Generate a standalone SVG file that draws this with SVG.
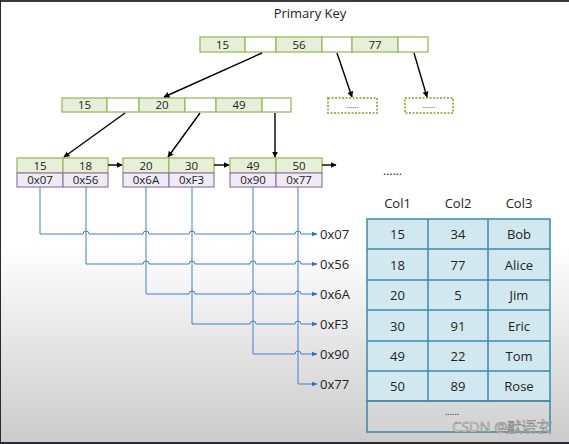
<svg xmlns="http://www.w3.org/2000/svg" width="569" height="444" viewBox="0 0 569 444">
<defs>
<linearGradient id="bg" x1="0" y1="0" x2="0" y2="1">
<stop offset="0" stop-color="#ffffff"/>
<stop offset="0.55" stop-color="#ffffff"/>
<stop offset="1" stop-color="#cbcbcb"/>
</linearGradient>
<marker id="ah" viewBox="0 0 10 10" refX="9" refY="5" markerWidth="6" markerHeight="6" orient="auto" markerUnits="userSpaceOnUse">
<path d="M0,0 L10,5 L0,10 z" fill="#000"/>
</marker>
<marker id="ab" viewBox="0 0 10 10" refX="9" refY="5" markerWidth="6" markerHeight="6" orient="auto" markerUnits="userSpaceOnUse">
<path d="M0,1 L10,5 L0,9 z" fill="#2f6fcf"/>
</marker>
</defs>
<style>
text{font-family:"Open Sans","Noto Sans","DejaVu Sans",sans-serif;fill:#222}
.k{fill:#e7efd8;stroke:#9bbb59;stroke-width:1.3}
.e{fill:#ffffff;stroke:#9bbb59;stroke-width:1.3}
.p{fill:#efeaf3;stroke:#8f78b0;stroke-width:1.2}
.d{fill:#ffffff;stroke:#9bbb59;stroke-width:2;stroke-dasharray:2 1.5}
.c{font-size:11.5px;text-anchor:middle}
.bk{fill:none;stroke:#000;stroke-width:1.4;marker-end:url(#ah)}
.bl{fill:none;stroke:#3b7fd4;stroke-width:1}
.ba{fill:none;stroke:#3b7fd4;stroke-width:1;marker-end:url(#ab)}
.lbl{font-size:13px}
.t{fill:#d2e8f0;stroke:#3a8aa6;stroke-width:1.5}
.tc{font-size:13px;text-anchor:middle}
</style>
<rect x="0" y="0" width="569" height="444" fill="url(#bg)"/>
<rect x="0" y="0" width="569" height="2" fill="#3a3a42"/>
<rect x="0" y="442" width="569" height="2" fill="#2a2a30"/>
<rect x="0" y="0" width="1" height="444" fill="#2a2a30"/>

<text x="310" y="18" font-size="13" text-anchor="middle">Primary Key</text>

<g id="root">
<rect class="k" x="200" y="37" width="45" height="15"/>
<rect class="e" x="245" y="37" width="31" height="15"/>
<rect class="k" x="276" y="37" width="46" height="15"/>
<rect class="e" x="322" y="37" width="30" height="15"/>
<rect class="k" x="352" y="37" width="46" height="15"/>
<rect class="e" x="398" y="37" width="30" height="15"/>
<text class="c" x="222.5" y="48.5">15</text>
<text class="c" x="299" y="48.5">56</text>
<text class="c" x="375" y="48.5">77</text>
</g>

<g id="inner">
<rect class="k" x="62" y="98" width="45" height="14"/>
<rect class="e" x="107" y="98" width="32" height="14"/>
<rect class="k" x="139" y="98" width="46" height="14"/>
<rect class="e" x="185" y="98" width="31" height="14"/>
<rect class="k" x="216" y="98" width="46" height="14"/>
<rect class="e" x="262" y="98" width="29" height="14"/>
<text class="c" x="84.5" y="109">15</text>
<text class="c" x="162" y="109">20</text>
<text class="c" x="239" y="109">49</text>
</g>

<g id="more1">
<rect class="d" x="328" y="98" width="49" height="15"/>
<text class="c" x="352.5" y="108" font-size="8" style="font-size:8px">......</text>
</g>
<g id="more2">
<rect class="d" x="405" y="98" width="48" height="15"/>
<text class="c" x="429" y="108" style="font-size:8px">......</text>
</g>

<g id="leaf1">
<rect class="k" x="17" y="158" width="46" height="15"/>
<rect class="k" x="63" y="158" width="45" height="15"/>
<rect class="p" x="17" y="173" width="46" height="14"/>
<rect class="p" x="63" y="173" width="45" height="14"/>
<text class="c" x="40" y="169.5">15</text>
<text class="c" x="85.5" y="169.5">18</text>
<text class="c" x="40" y="184">0x07</text>
<text class="c" x="85.5" y="184">0x56</text>
</g>
<g id="leaf2">
<rect class="k" x="123" y="158" width="46" height="15"/>
<rect class="k" x="169" y="158" width="45" height="15"/>
<rect class="p" x="123" y="173" width="46" height="14"/>
<rect class="p" x="169" y="173" width="45" height="14"/>
<text class="c" x="146" y="169.5">20</text>
<text class="c" x="191.5" y="169.5">30</text>
<text class="c" x="146" y="184">0x6A</text>
<text class="c" x="191.5" y="184">0xF3</text>
</g>
<g id="leaf3">
<rect class="k" x="230" y="158" width="46" height="15"/>
<rect class="k" x="276" y="158" width="46" height="15"/>
<rect class="p" x="230" y="173" width="46" height="14"/>
<rect class="p" x="276" y="173" width="46" height="14"/>
<text class="c" x="253" y="169.5">49</text>
<text class="c" x="299" y="169.5">50</text>
<text class="c" x="253" y="184">0x90</text>
<text class="c" x="299" y="184">0x77</text>
</g>

<g id="connectors">
<line class="bk" x1="262" y1="53" x2="164" y2="97"/>
<line class="bk" x1="337" y1="53" x2="352" y2="97"/>
<line class="bk" x1="414" y1="53" x2="427" y2="97"/>
<line class="bk" x1="125" y1="113" x2="64" y2="157"/>
<line class="bk" x1="200" y1="113" x2="168" y2="157"/>
<line class="bk" x1="275" y1="113" x2="275" y2="157"/>
<line class="bk" x1="108" y1="165" x2="122" y2="165"/>
<line class="bk" x1="214" y1="165" x2="229" y2="165"/>
<line class="bk" x1="322" y1="165" x2="336" y2="165"/>

<path class="bl" d="M40,187 V234 M86,187 V264 M146,187 V294 M192,187 V324 M253,187 V354 M298,187 V384"/>
<path class="ba" d="M40,234 H83 a3,3 0 0 1 6,0 H143 a3,3 0 0 1 6,0 H189 a3,3 0 0 1 6,0 H250 a3,3 0 0 1 6,0 H295 a3,3 0 0 1 6,0 H317"/>
<path class="ba" d="M86,264 H143 a3,3 0 0 1 6,0 H189 a3,3 0 0 1 6,0 H250 a3,3 0 0 1 6,0 H295 a3,3 0 0 1 6,0 H317"/>
<path class="ba" d="M146,294 H189 a3,3 0 0 1 6,0 H250 a3,3 0 0 1 6,0 H295 a3,3 0 0 1 6,0 H317"/>
<path class="ba" d="M192,324 H250 a3,3 0 0 1 6,0 H295 a3,3 0 0 1 6,0 H317"/>
<path class="ba" d="M253,354 H295 a3,3 0 0 1 6,0 H317"/>
<path class="ba" d="M298,384 H317"/>
</g>

<g id="addr">
<text class="lbl" x="320" y="239">0x07</text>
<text class="lbl" x="320" y="269">0x56</text>
<text class="lbl" x="320" y="299">0x6A</text>
<text class="lbl" x="320" y="329">0xF3</text>
<text class="lbl" x="320" y="359">0x90</text>
<text class="lbl" x="320" y="389">0x77</text>
</g>

<text x="383" y="175" font-size="12">......</text>

<g id="table">
<text class="tc" x="397.5" y="208">Col1</text>
<text class="tc" x="458" y="208">Col2</text>
<text class="tc" x="519" y="208">Col3</text>
<rect class="t" x="367" y="219" width="183" height="182"/>
<rect x="367" y="401" width="183" height="31" fill="#dcdcdc" fill-opacity="0.35" stroke="#3a8aa6" stroke-width="1.5"/>
<path d="M428,219 V401 M488,219 V401 M367,249 H550 M367,280 H550 M367,310 H550 M367,341 H550 M367,371 H550" stroke="#3a8aa6" stroke-width="1.5" fill="none"/>
<text class="tc" x="397.5" y="239">15</text><text class="tc" x="458" y="239">34</text><text class="tc" x="519" y="239">Bob</text>
<text class="tc" x="397.5" y="269.5">18</text><text class="tc" x="458" y="269.5">77</text><text class="tc" x="519" y="269.5">Alice</text>
<text class="tc" x="397.5" y="300">20</text><text class="tc" x="458" y="300">5</text><text class="tc" x="519" y="300">Jim</text>
<text class="tc" x="397.5" y="330.5">30</text><text class="tc" x="458" y="330.5">91</text><text class="tc" x="519" y="330.5">Eric</text>
<text class="tc" x="397.5" y="361">49</text><text class="tc" x="458" y="361">22</text><text class="tc" x="519" y="361">Tom</text>
<text class="tc" x="397.5" y="391">50</text><text class="tc" x="458" y="391">89</text><text class="tc" x="519" y="391">Rose</text>
<text x="445" y="415" font-size="9">......</text>
</g>
<text x="452" y="432" font-size="14.5" stroke="#888" stroke-width="0.6" font-family="'Liberation Sans','Noto Sans CJK SC',sans-serif" style="fill:#f4f4f4">CSDN @默语玄</text>
</svg>
